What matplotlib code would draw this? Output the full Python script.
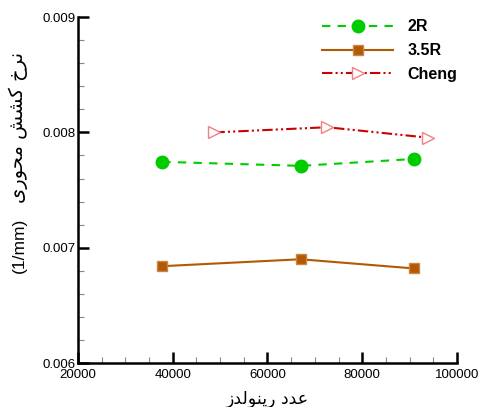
import matplotlib
matplotlib.use('Agg')
import matplotlib.pyplot as plt
from matplotlib.ticker import MultipleLocator

# Daten
re_2r = [37800, 67000, 91000]
k_2r = [0.007745, 0.007710, 0.007770]

re_35r = [37800, 67000, 91000]
k_35r = [0.006840, 0.006900, 0.006820]

re_cheng = [48800, 72600, 93800]
k_cheng = [0.008000, 0.008045, 0.007955]

x_ticks = [20000, 40000, 60000, 80000, 100000]
y_ticks = [0.006, 0.007, 0.008, 0.009]

# Persische Beschriftungen, von Hand in Darstellungsformen gesetzt (visuelle Reihenfolge)
# "نرخ کشش محوری"
ylabel_fa = ('\uFBFC\uFEAD\uFEEE\uFEA4\uFEE3 '
             '\uFEB6\uFEB8\uFB90 '
             '\uFEA5\uFEAE\uFEE7')
ylabel_unit = '(1/mm)'
# "عدد رینولدز"
xlabel_fa = ('\uFEAF\uFEAA\uFEDF\uFEEE\uFEE8\uFBFE\uFEAD '
             '\uFEA9\uFEAA\uFECB')

plt.rcParams['font.family'] = ['Liberation Sans', 'DejaVu Sans']

fig = plt.figure(figsize=(4.81, 4.07), dpi=100)
ax = fig.add_axes([0.162, 0.108, 0.788, 0.850])

ax.plot(re_2r, k_2r, linestyle=(0, (4, 3.5)), color='#00cc00', lw=1.5,
        marker='o', markersize=9, markerfacecolor='#00cc00', markeredgecolor='#00cc00',
        label='2R')
ax.plot(re_35r, k_35r, linestyle='-', color='#b35900', lw=1.5,
        marker='s', markersize=6.5, markerfacecolor='#b35900', markeredgecolor='#c8864a',
        label='3.5R')
ax.plot(re_cheng, k_cheng, linestyle=(0, (5, 1.5, 1, 1.5, 1, 1.5)), color='#cc0000', lw=1.5,
        marker='>', markersize=9, markerfacecolor='white', markeredgecolor='#f08080',
        markeredgewidth=1.0, label='Cheng')

ax.set_xlim(20000, 100000)
ax.set_ylim(0.006, 0.009)
ax.set_xticks(x_ticks)
ax.set_yticks(y_ticks)
ax.set_yticklabels(['0.006', '0.007', '0.008', '0.009'])
ax.xaxis.set_minor_locator(MultipleLocator(5000))
ax.yaxis.set_minor_locator(MultipleLocator(0.0002))

for s in ['top', 'right']:
    ax.spines[s].set_visible(False)
for s in ['left', 'bottom']:
    ax.spines[s].set_linewidth(1.8)

ax.tick_params(which='major', direction='in', length=8, width=1.8, labelsize=9.5, pad=2)
ax.tick_params(axis='x', which='major', pad=4)
ax.tick_params(which='minor', direction='in', length=4, width=0.8, color='#888888')

ax.set_xlabel(xlabel_fa, fontsize=12.5, family=['DejaVu Sans'], labelpad=7)

# y-Beschriftung in zwei Teilen (persisch oben, Einheit unten)
ax.text(-0.158, 0.68, ylabel_fa, transform=ax.transAxes, rotation=90,
        ha='center', va='center', fontsize=14, family=['DejaVu Sans'])
ax.text(-0.155, 0.34, ylabel_unit, transform=ax.transAxes, rotation=90,
        ha='center', va='center', fontsize=12.5)

leg = ax.legend(loc='upper right', frameon=False, handlelength=4.5, handletextpad=0.9,
                labelspacing=0.55, prop={'weight': 'bold', 'size': 11.5},
                bbox_to_anchor=(1.04, 1.035))

plt.savefig('out.png', dpi=100)
